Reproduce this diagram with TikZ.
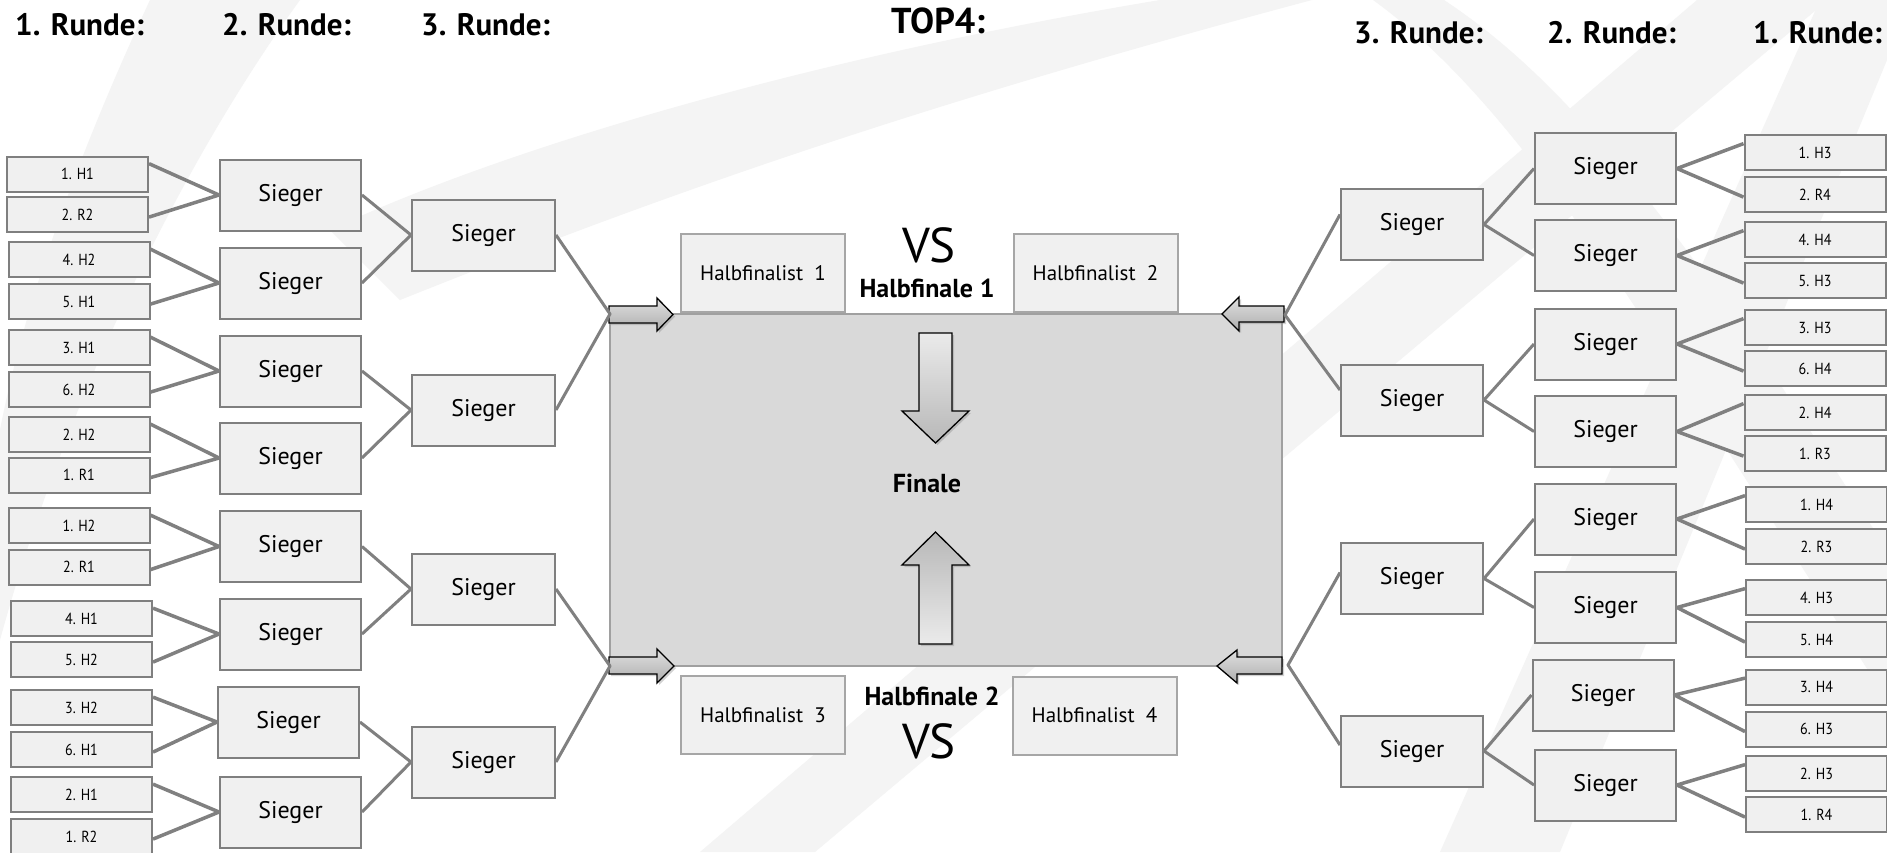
\documentclass[tikz,border=0pt]{standalone}
\usepackage{fontspec}
\setmainfont{PT Sans}
\newfontfamily\narrowfont[FakeStretch=0.88]{PT Sans}
\usetikzlibrary{calc,shadows}
\definecolor{boxfill}{HTML}{F0F0F0}
\definecolor{boxline}{HTML}{7F7F7F}
\definecolor{connc}{HTML}{808080}
\definecolor{bigfill}{HTML}{D9D9D9}
\definecolor{bigline}{HTML}{A0A0A0}
\definecolor{hfline}{HTML}{A6A6A6}
\definecolor{swoosh}{HTML}{F4F4F4}
\begin{document}
\begin{tikzpicture}[x=1pt,y=-1pt,
  r1/.style={draw=boxline, fill=boxfill, line width=2pt, minimum width=141pt, minimum height=35pt, inner sep=0pt, font=\narrowfont\fontsize{16}{16}\selectfont},
  sg/.style={draw=boxline, fill=boxfill, line width=2pt, minimum width=141pt, minimum height=71pt, inner sep=0pt, font=\fontsize{24}{24}\selectfont},
  hf/.style={draw=hfline, fill=boxfill, line width=2pt, minimum width=164pt, minimum height=78pt, inner sep=0pt, font=\fontsize{21}{21}\selectfont},
  head/.style={anchor=base west, inner sep=0pt, font=\fontsize{31}{31}\selectfont\bfseries},
  lbl/.style={anchor=base, inner sep=0pt},
  cthick/.style={draw=connc, line width=3.5pt, line join=round},
  cthin/.style={draw=connc, line width=3pt, line join=round},
  blockarrow/.style={draw=black, line width=1.3pt, line join=miter, drop shadow={opacity=0.35, shadow xshift=2pt, shadow yshift=-2pt}},
]
\useasboundingbox (0,0) rectangle (1887,852);
\fill[white] (0,0) rectangle (1887,852);
% background watermark swooshes
\fill[swoosh] (150,0) .. controls (80,150) and (25,300) .. (0,430) -- (0,640) .. controls (60,420) and (170,180) .. (300,0) -- cycle;
\fill[swoosh] (330,230) .. controls (500,150) and (800,60) .. (1160,0) -- (1312,0) .. controls (900,110) and (650,200) .. (400,300) -- cycle;
\fill[swoosh] (700,852) -- (1697,0) -- (1828,0) -- (815,852) -- cycle;
\fill[swoosh] (1444,0) .. controls (1550,70) and (1640,180) .. (1760,353) -- (1887,550) -- (1887,700) -- (1665,353) .. controls (1560,190) and (1470,70) .. (1373,0) -- cycle;
\fill[swoosh] (1440,852) -- (1820,0) -- (1887,0) -- (1887,60) -- (1560,852) -- cycle;

% headings
\node[head] (h1l) at (15,35) {1. Runde:};
\node[head] (h2l) at (222,35) {2. Runde:};
\node[head] (h3l) at (421,35) {3. Runde:};
\node[lbl, font=\fontsize{36}{36}\selectfont\bfseries] (top4) at (938,33) {TOP4:};
\node[head] (h3r) at (1354,43) {3. Runde:};
\node[head] (h2r) at (1547,43) {2. Runde:};
\node[head] (h1r) at (1753,43) {1. Runde:};

% left round 1
\node[r1] (L1) at (77.5,174) {1. H1};
\node[r1] (L2) at (77.5,214.5) {2. R2};
\node[r1] (L3) at (79,259.5) {4. H2};
\node[r1] (L4) at (79,301.5) {5. H1};
\node[r1] (L5) at (79,347.5) {3. H1};
\node[r1] (L6) at (79,389.5) {6. H2};
\node[r1] (L7) at (79,434.5) {2. H2};
\node[r1] (L8) at (79,475) {1. R1};
\node[r1] (L9) at (79,525.5) {1. H2};
\node[r1] (L10) at (79,567) {2. R1};
\node[r1] (L11) at (81.5,618.5) {4. H1};
\node[r1] (L12) at (81.5,659.5) {5. H2};
\node[r1] (L13) at (81.5,707.5) {3. H2};
\node[r1] (L14) at (81.5,749.5) {6. H1};
\node[r1] (L15) at (81.5,794.5) {2. H1};
\node[r1] (L16) at (81.5,836.5) {1. R2};
% left round 2
\node[sg] (LS1) at (290.5,195) {Sieger};
\node[sg] (LS2) at (290.5,283) {Sieger};
\node[sg] (LS3) at (290.5,371) {Sieger};
\node[sg] (LS4) at (290.5,458) {Sieger};
\node[sg] (LS5) at (290.5,546.5) {Sieger};
\node[sg] (LS6) at (290.5,634) {Sieger};
\node[sg] (LS7) at (288.5,722) {Sieger};
\node[sg] (LS8) at (290.5,812) {Sieger};
% left round 3
\node[sg, minimum width=143pt] (LT1) at (483.5,235) {Sieger};
\node[sg, minimum width=143pt] (LT2) at (483.5,410) {Sieger};
\node[sg, minimum width=143pt] (LT3) at (483.5,589) {Sieger};
\node[sg, minimum width=143pt] (LT4) at (483.5,762) {Sieger};

% right round 1
\node[r1] (R1) at (1815,152.5) {1. H3};
\node[r1] (R2) at (1815,194.5) {2. R4};
\node[r1] (R3) at (1815,239.5) {4. H4};
\node[r1] (R4) at (1815,280.5) {5. H3};
\node[r1] (R5) at (1815,327.5) {3. H3};
\node[r1] (R6) at (1815,368.5) {6. H4};
\node[r1] (R7) at (1815,412.5) {2. H4};
\node[r1] (R8) at (1815,453.5) {1. R3};
\node[r1] (R9) at (1816.5,504.5) {1. H4};
\node[r1] (R10) at (1816.5,546.5) {2. R3};
\node[r1] (R11) at (1816.5,597.5) {4. H3};
\node[r1] (R12) at (1816.5,639.5) {5. H4};
\node[r1] (R13) at (1816.5,687) {3. H4};
\node[r1] (R14) at (1816.5,729) {6. H3};
\node[r1] (R15) at (1816.5,773.5) {2. H3};
\node[r1] (R16) at (1816.5,814.5) {1. R4};
% right round 2
\node[sg] (RS1) at (1605.5,168.5) {Sieger};
\node[sg] (RS2) at (1605.5,255.5) {Sieger};
\node[sg] (RS3) at (1605.5,344) {Sieger};
\node[sg] (RS4) at (1605.5,431.5) {Sieger};
\node[sg] (RS5) at (1605.5,519) {Sieger};
\node[sg] (RS6) at (1605.5,607.5) {Sieger};
\node[sg] (RS7) at (1603,695) {Sieger};
\node[sg] (RS8) at (1605.5,785) {Sieger};
% right round 3
\node[sg, minimum width=142pt] (RT1) at (1412,224.5) {Sieger};
\node[sg, minimum width=142pt] (RT2) at (1412,400) {Sieger};
\node[sg, minimum width=142pt] (RT3) at (1412,578.5) {Sieger};
\node[sg, minimum width=142pt] (RT4) at (1412,751) {Sieger};

% center
\node[draw=bigline, fill=bigfill, line width=2pt, minimum width=672pt, minimum height=352pt, inner sep=0pt] (final) at (946,490) {};
\node[hf] (HF1) at (763,273) {Halbfinalist~~1};
\node[hf] (HF2) at (1095.5,273) {Halbfinalist~~2};
\node[hf] (HF3) at (763,715) {Halbfinalist~~3};
\node[hf] (HF4) at (1094.5,715.5) {Halbfinalist~~4};
\node[lbl, font=\fontsize{49}{49}\selectfont] (vs1) at (929,262) {VS};
\node[lbl, font=\fontsize{26}{26}\selectfont\bfseries] (hfl1) at (927,297) {Halbfinale 1};
\node[lbl, font=\fontsize{26}{26}\selectfont\bfseries] (fin) at (927,492) {Finale};
\node[lbl, font=\fontsize{26}{26}\selectfont\bfseries] (hfl2) at (932,705) {Halbfinale 2};
\node[lbl, font=\fontsize{49}{49}\selectfont] (vs2) at (929,758) {VS};

\coordinate (jTL) at (610,314);
\coordinate (jBL) at (610,666);
\coordinate (jTR) at (1285,315);
\coordinate (jBR) at (1288,665);

% big arrows
\path[blockarrow, top color=white!92!black, bottom color=white!72!black]
  (919,333) -- (952,333) -- (952,411) -- (969,411) -- (935.5,443) -- (902,411) -- (919,411) -- cycle;
\path[blockarrow, top color=white!72!black, bottom color=white!92!black]
  (935.5,532) -- (969,565) -- (952,565) -- (952,644) -- (919,644) -- (919,565) -- (902,565) -- cycle;
% small arrows
\path[blockarrow, top color=white!88!black, bottom color=white!68!black]
  (609,306) -- (657,306) -- (657,298) -- (673,314.5) -- (657,331) -- (657,323) -- (609,323) -- cycle;
\path[blockarrow, top color=white!88!black, bottom color=white!68!black]
  (609,657) -- (657,657) -- (657,649) -- (674,666) -- (657,683) -- (657,674) -- (609,674) -- cycle;
\path[blockarrow, top color=white!88!black, bottom color=white!68!black]
  (1284,306) -- (1239,306) -- (1239,297) -- (1222,314) -- (1239,331) -- (1239,322) -- (1284,322) -- cycle;
\path[blockarrow, top color=white!88!black, bottom color=white!68!black]
  (1282,657) -- (1237,657) -- (1237,650) -- (1217,666) -- (1237,683) -- (1237,674) -- (1282,674) -- cycle;

% left connectors
\foreach \a/\b/\s in {L1/L2/LS1, L3/L4/LS2, L5/L6/LS3, L7/L8/LS4, L9/L10/LS5, L11/L12/LS6, L13/L14/LS7, L15/L16/LS8}
  \draw[cthick] ($(\a.north east)!0.22!(\a.south east)$) -- (\s.west) -- ($(\b.north east)!0.57!(\b.south east)$);
\foreach \a/\b/\s in {LS1/LS2/LT1, LS3/LS4/LT2, LS5/LS6/LT3, LS7/LS8/LT4}
  \draw[cthin] (\a.east) -- (\s.west) -- (\b.east);
\draw[cthin] (LT1.east) -- (jTL) -- (LT2.east);
\draw[cthin] (LT3.east) -- (jBL) -- (LT4.east);
% right connectors
\foreach \a/\b/\s in {R1/R2/RS1, R3/R4/RS2, R5/R6/RS3, R7/R8/RS4, R9/R10/RS5, R11/R12/RS6, R13/R14/RS7, R15/R16/RS8}
  \draw[cthick] ($(\a.north west)!0.26!(\a.south west)$) -- (\s.east) -- ($(\b.north west)!0.57!(\b.south west)$);
\foreach \a/\b/\s in {RS1/RS2/RT1, RS3/RS4/RT2, RS5/RS6/RT3, RS7/RS8/RT4}
  \draw[cthin] (\a.west) -- (\s.east) -- (\b.west);
\draw[cthin] ([yshift=10pt]RT1.west) -- (jTR) -- ([yshift=10pt]RT2.west);
\draw[cthin] ([yshift=6pt]RT3.west) -- (jBR) -- ([yshift=6pt]RT4.west);
\end{tikzpicture}
\end{document}
